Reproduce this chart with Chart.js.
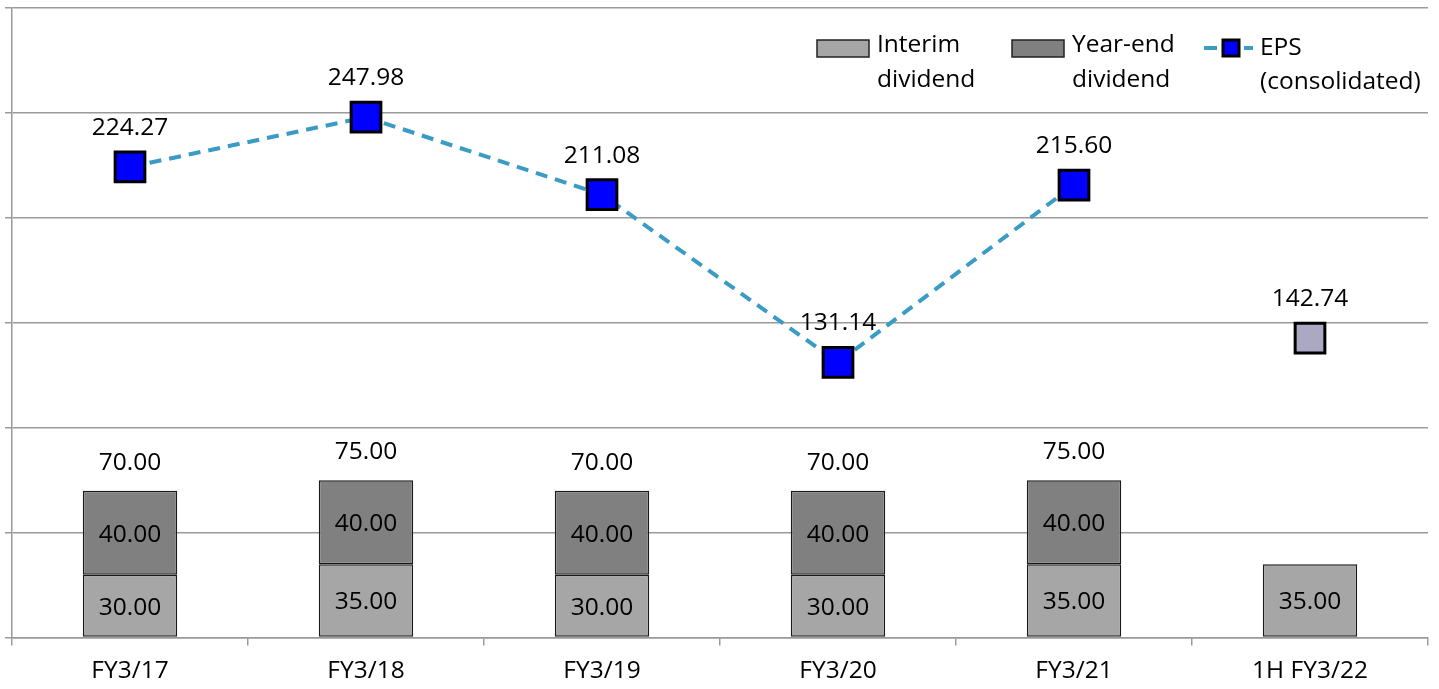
<!DOCTYPE html>
<html><head><meta charset="utf-8">
<script src="https://cdn.jsdelivr.net/npm/chart.js@4"></script>
<style>html,body{margin:0;padding:0;background:#fff}#wrap{width:1439px;height:689px;position:relative}</style>
</head><body><div id="wrap"><canvas id="c"></canvas></div>
<script>
const categories = ['FY3/17', 'FY3/18', 'FY3/19', 'FY3/20', 'FY3/21', '1H FY3/22'];
const interimDividend = [30, 35, 30, 30, 35, 35];
const yearEndDividend = [40, 40, 40, 40, 40, null];
const epsConsolidated = [224.27, 247.98, 211.08, 131.14, 215.60, null];
const eps1H = [null, null, null, null, null, 142.74];
const yMin = 0, yMax = 300, yStep = 50;

const FONT = "'Open Sans', sans-serif";
const FS = 24.5;
const GRID = '#9a9a9a';
const C_INTERIM = '#A6A6A6', C_YEAREND = '#808080', C_LINE = '#3A9BC4', C_MARK = '#0000FF', C_MARK1H = '#AAA8C2';
const DY = 2; // small vertical optical correction for label text

const labelPlugin = {
  id: 'valueLabels',
  afterDatasetsDraw(chart) {
    const ctx = chart.ctx;
    ctx.save();
    ctx.font = FS + 'px ' + FONT;
    ctx.fillStyle = '#000';
    ctx.textAlign = 'center';
    ctx.textBaseline = 'middle';
    const mI = chart.getDatasetMeta(0), mY = chart.getDatasetMeta(1),
          mE = chart.getDatasetMeta(2), mH = chart.getDatasetMeta(3);
    interimDividend.forEach((v, i) => {
      if (v == null) return;
      const el = mI.data[i];
      ctx.fillText(v.toFixed(2), el.x, (el.y + el.base) / 2 + DY);
    });
    yearEndDividend.forEach((v, i) => {
      if (v == null) return;
      const el = mY.data[i];
      ctx.fillText(v.toFixed(2), el.x, (el.y + el.base) / 2 + DY);
      ctx.fillText((v + interimDividend[i]).toFixed(2), el.x, el.y - 30 + DY);
    });
    epsConsolidated.forEach((v, i) => {
      if (v == null) return;
      const el = mE.data[i];
      ctx.fillText(v.toFixed(2), el.x, el.y - 41 + DY);
    });
    eps1H.forEach((v, i) => {
      if (v == null) return;
      const el = mH.data[i];
      ctx.fillText(v.toFixed(2), el.x, el.y - 41 + DY);
    });
    ctx.restore();
  }
};

const legendPlugin = {
  id: 'customLegend',
  afterDraw(chart) {
    const ctx = chart.ctx;
    ctx.save();
    ctx.font = FS + 'px ' + FONT;
    ctx.fillStyle = '#000';
    ctx.textAlign = 'left';
    ctx.textBaseline = 'alphabetic';
    // Interim
    ctx.fillStyle = C_INTERIM; ctx.fillRect(817, 40, 52, 17);
    ctx.strokeStyle = '#222'; ctx.lineWidth = 1.5; ctx.strokeRect(817, 40, 52, 17);
    ctx.fillStyle = '#000';
    ctx.fillText('Interim', 877, 52);
    ctx.fillText('dividend', 877, 87);
    // Year-end
    ctx.fillStyle = C_YEAREND; ctx.fillRect(1012, 40, 52, 17);
    ctx.strokeRect(1012, 40, 52, 17);
    ctx.fillStyle = '#000';
    ctx.fillText('Year-end', 1072, 52);
    ctx.fillText('dividend', 1072, 87);
    // EPS
    ctx.strokeStyle = C_LINE; ctx.lineWidth = 4;
    ctx.beginPath(); ctx.moveTo(1204, 48); ctx.lineTo(1217, 48); ctx.moveTo(1244, 48); ctx.lineTo(1253, 48); ctx.stroke();
    ctx.fillStyle = C_MARK; ctx.fillRect(1223, 40, 16, 16);
    ctx.strokeStyle = '#000'; ctx.lineWidth = 3; ctx.strokeRect(1223, 40, 16, 16);
    ctx.fillStyle = '#000';
    ctx.fillText('EPS', 1260, 55);
    ctx.fillText('(consolidated)', 1260, 89);
    ctx.restore();
  }
};

new Chart(document.getElementById('c'), {
  type: 'bar',
  data: {
    labels: categories,
    datasets: [
      { type: 'bar', label: 'Interim dividend', data: interimDividend, stack: 'div',
        backgroundColor: C_INTERIM, borderColor: '#1a1a1a', borderWidth: 1.5, borderSkipped: false,
        barPercentage: 0.4, categoryPercentage: 1, order: 2 },
      { type: 'bar', label: 'Year-end dividend', data: yearEndDividend, stack: 'div',
        backgroundColor: C_YEAREND, borderColor: '#1a1a1a', borderWidth: 1.5, borderSkipped: false,
        barPercentage: 0.4, categoryPercentage: 1, order: 2 },
      { type: 'line', label: 'EPS (consolidated)', data: epsConsolidated, stack: 'eps',
        borderColor: C_LINE, borderWidth: 4, borderDash: [12, 8], tension: 0, fill: false,
        pointStyle: 'rect', pointRadius: 21, pointHoverRadius: 21, pointBackgroundColor: C_MARK,
        pointBorderColor: '#000', pointBorderWidth: 3, order: 0, clip: false },
      { type: 'line', label: 'EPS 1H', data: eps1H, stack: 'eps1h', showLine: false,
        pointStyle: 'rect', pointRadius: 21, pointHoverRadius: 21, pointBackgroundColor: C_MARK1H,
        pointBorderColor: '#000', pointBorderWidth: 3, order: 0, clip: false }
    ]
  },
  options: {
    responsive: true,
    maintainAspectRatio: false,
    animation: false,
    layout: { autoPadding: false, padding: { left: 5, right: 11, top: 8, bottom: -8 } },
    plugins: { legend: { display: false }, tooltip: { enabled: false } },
    scales: {
      x: {
        stacked: true,
        offset: true,
        grid: { display: true, drawOnChartArea: false, drawTicks: true, tickLength: 8, color: GRID, lineWidth: 1.5, offset: true },
        border: { display: true, color: GRID, width: 1.5 },
        ticks: { color: '#000', font: { family: FONT, size: FS }, padding: 11, maxRotation: 0, autoSkip: false }
      },
      y: {
        stacked: true,
        min: yMin, max: yMax,
        ticks: { display: false, stepSize: yStep },
        grid: { color: GRID, lineWidth: 1.5, drawTicks: true, tickLength: 7 },
        border: { display: true, color: GRID, width: 1.5 }
      }
    }
  },
  plugins: [labelPlugin, legendPlugin]
});
</script>
</body></html>
